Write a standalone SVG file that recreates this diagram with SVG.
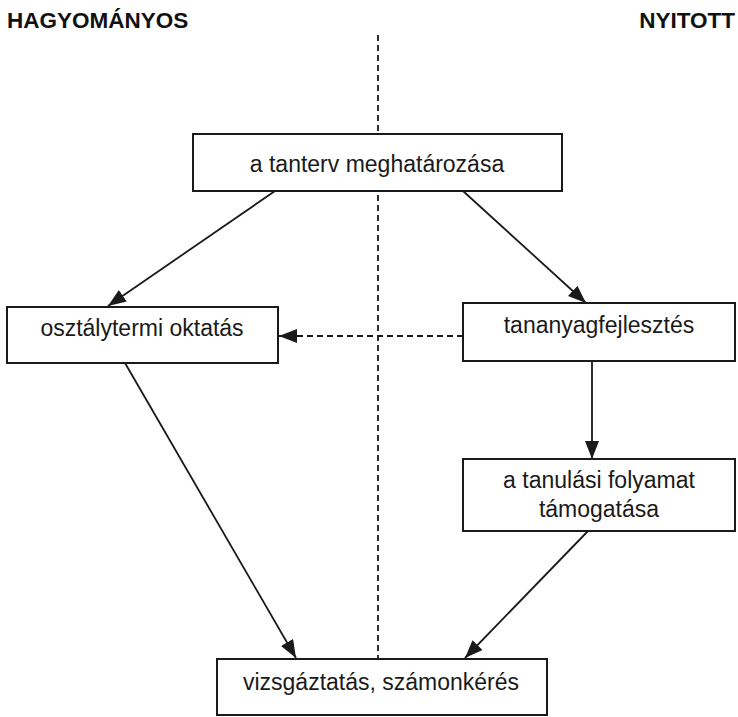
<svg xmlns="http://www.w3.org/2000/svg" width="738" height="717" viewBox="0 0 738 717">
<style>
.box{fill:#fff;stroke:#1a1a1a;stroke-width:2}
.t{font-family:"Liberation Sans",Arial,sans-serif;font-size:23px;fill:#1a1a1a;text-anchor:middle}
.h{font-family:"Liberation Sans",Arial,sans-serif;font-size:22.5px;font-weight:bold;fill:#111}
.c{stroke:#1a1a1a;stroke-width:1.8;fill:none}
.d{stroke:#1a1a1a;stroke-width:1.8;fill:none;stroke-dasharray:6,4}
</style>
<defs>
<marker id="ah" viewBox="0 0 18 14" refX="18" refY="7" markerWidth="18" markerHeight="14" markerUnits="userSpaceOnUse" orient="auto">
<path d="M0,0 L18,7 L0,14 Z" fill="#1a1a1a"/>
</marker>
</defs>
<text class="h" x="7" y="28">HAGYOMÁNYOS</text>
<text class="h" x="735" y="28" text-anchor="end">NYITOTT</text>
<g id="connectors">
<line class="d" x1="378" y1="35" x2="378" y2="659"/>
<line class="c" x1="275" y1="191" x2="108" y2="306" marker-end="url(#ah)"/>
<line class="c" x1="463" y1="191" x2="586" y2="303" marker-end="url(#ah)"/>
<line class="d" x1="463" y1="336" x2="279" y2="336" marker-end="url(#ah)"/>
<line class="c" x1="592" y1="361" x2="592" y2="459" marker-end="url(#ah)"/>
<line class="c" x1="125" y1="363" x2="296" y2="658" marker-end="url(#ah)"/>
<line class="c" x1="588" y1="531" x2="465" y2="658" marker-end="url(#ah)"/>
</g>
<g id="n1"><rect class="box" x="193" y="134" width="369" height="57"/><text class="t" x="377" y="172">a tanterv meghatározása</text></g>
<g id="n2"><rect class="box" x="7" y="307" width="271" height="56"/><text class="t" x="142" y="336">osztálytermi oktatás</text></g>
<g id="n3"><rect class="box" x="463" y="303" width="272" height="58"/><text class="t" x="599" y="333">tananyagfejlesztés</text></g>
<g id="n4"><rect class="box" x="463" y="459" width="272" height="72"/><text class="t" x="599" y="488">a tanulási folyamat</text><text class="t" x="599" y="517">támogatása</text></g>
<g id="n5"><rect class="box" x="217" y="659" width="330" height="56"/><text class="t" x="381" y="690">vizsgáztatás, számonkérés</text></g>
</svg>
